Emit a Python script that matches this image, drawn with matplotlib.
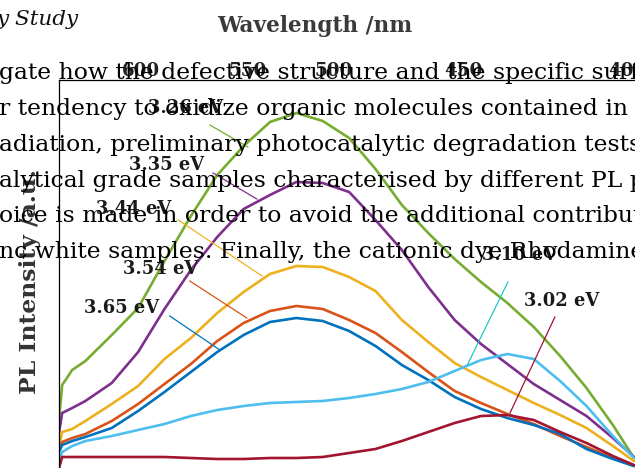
import matplotlib
matplotlib.use("Agg")
import matplotlib.pyplot as plt
from matplotlib.ticker import MultipleLocator

# energia de emissao (eV), grade comum para todas as curvas
energy_ev = [1.900, 1.906, 1.925, 1.95, 2.00, 2.05, 2.10, 2.15, 2.20, 2.25, 2.30, 2.35,
             2.40, 2.45, 2.50, 2.55, 2.60, 2.65, 2.70, 2.75, 2.80, 2.85, 2.90, 2.95, 2.99]

# intensidade PL (u.a.) para cada energia de excitacao
pl_326 = [15.0, 23.75, 27.5, 29.75, 36.25, 43.0, 54.75, 66.0, 76.25, 83.5, 89.5, 91.75,
          89.75, 85.5, 77.75, 68.75, 61.75, 55.25, 49.5, 44.25, 38.25, 31.0, 23.0, 13.75, 5.5]
pl_335 = [11.75, 16.75, 18.0, 19.75, 24.25, 32.0, 42.75, 52.5, 60.75, 67.75, 71.25, 74.5,
          74.25, 72.0, 65.0, 57.5, 48.25, 40.0, 34.0, 29.0, 24.0, 20.0, 16.0, 10.5, 5.75]
pl_344 = [8.25, 12.0, 12.75, 14.75, 19.0, 23.5, 30.25, 35.5, 41.75, 47.0, 51.5, 53.5,
          53.25, 50.75, 47.25, 40.0, 34.5, 29.25, 25.75, 22.5, 19.25, 16.25, 13.0, 8.5, 4.75]
pl_354 = [7.5, 9.5, 10.5, 11.5, 14.75, 19.0, 24.0, 29.0, 34.75, 39.25, 42.25, 43.5,
          42.75, 40.0, 36.75, 32.0, 27.0, 22.25, 19.25, 16.5, 14.0, 11.0, 8.25, 5.5, 3.5]
pl_365 = [7.0, 8.75, 9.75, 10.75, 13.0, 17.25, 22.0, 27.0, 32.0, 36.25, 39.5, 40.5,
          39.75, 37.25, 33.5, 28.75, 25.0, 20.75, 17.75, 15.5, 13.75, 11.5, 7.75, 5.25, 3.5]
pl_310 = [4.5, 7.0, 8.5, 9.75, 11.0, 12.5, 14.0, 16.0, 17.5, 18.5, 19.25, 19.5,
          19.75, 20.5, 21.5, 22.75, 24.5, 27.25, 30.0, 31.5, 30.25, 24.75, 18.5, 11.0, 5.5]
pl_302 = [3.0, 5.75, 5.75, 5.75, 5.75, 5.75, 5.75, 5.5, 5.25, 5.25, 5.5, 5.5,
          5.75, 6.75, 7.75, 9.75, 12.0, 14.25, 16.0, 16.25, 15.0, 12.0, 9.25, 6.0, 3.75]

exc_labels = ["3.26 eV", "3.35 eV", "3.44 eV", "3.54 eV", "3.65 eV", "3.10 eV", "3.02 eV"]
curves = [pl_326, pl_335, pl_344, pl_354, pl_365, pl_310, pl_302]
cores = ["#77AC30", "#7E2F8E", "#EDB120", "#D95319", "#0072BD", "#4DBEEE", "#A2142F"]
cores_seta = ["#77AC30", "#7E2F8E", "#EDB120", "#D95319", "#0072BD", "#1FC8C8", "#A2142F"]

# onde cada rotulo aparece e onde termina a linha guia (eV, u.a.)
rot_x = [2.139, 2.103, 2.042, 2.093, 2.018, 2.774, 2.852]
rot_y = [93.0, 78.75, 67.75, 52.75, 43.0, 56.25, 44.75]
guia_x = [(2.186, 2.258), (2.192, 2.275), (2.126, 2.285), (2.148, 2.256),
          (2.110, 2.205), (2.751, 2.674), (2.840, 2.755)]
guia_y = [(88.75, 83.25), (76.75, 70.25), (65.0, 51.0), (49.75, 40.5),
          (41.0, 32.5), (49.5, 28.75), (40.75, 16.75)]

# rotulos de comprimento de onda no eixo de cima (posicao em eV como no original)
wl_labels = ["600", "550", "500", "450", "400"]
wl_pos = [2.0555, 2.2583, 2.4213, 2.6659, 2.9768]

# texto do corpo da pagina que cobre a figura
linhas = ["gate how the defective structure and the specific surface",
          "r tendency to oxidize organic molecules contained in the",
          "adiation, preliminary photocatalytic degradation tests were",
          "alytical grade samples characterised by different PL properties",
          "oice is made in order to avoid the additional contribution",
          "nc white samples. Finally, the cationic dye Rhodamine B"]
linhas_base = [79, 115, 151, 187, 222, 258]

W, H = 635, 468
serif = ["DejaVu Serif"]

fig = plt.figure(figsize=(W / 100, H / 100), dpi=100)
rend = fig.canvas.get_renderer()


def tamanho(txt, alvo_px, **kw):
    # acha o tamanho de fonte que da a largura alvo (em pixels)
    t = fig.text(0, 0, txt, fontsize=10, family=serif, **kw)
    w = t.get_window_extent(rend).width
    t.remove()
    return 10 * alvo_px / w


fs_corpo = tamanho("r tendency to oxidize organic molecules contained in", 632)
fs_titulo = tamanho("Wavelength /nm", 196, fontweight="bold")
fs_ylab = tamanho("PL Intensity /a.u.", 226, fontweight="bold")
fs_wl = tamanho("600", 38, fontweight="bold")
fs_ev = tamanho("3.35 eV", 75, fontweight="bold")
fs_cab = tamanho("Study", 63, style="italic")

ax = fig.add_axes([59 / W, 1 - 480 / H, 580.25 / W, 400 / H])

for vals, cor in zip(curves, cores):
    ax.plot(energy_ev, vals, color=cor, lw=1.9, solid_capstyle="round")

for i in range(len(exc_labels)):
    ax.plot(guia_x[i], guia_y[i], color=cores_seta[i], lw=0.9)
    ax.text(rot_x[i], rot_y[i], exc_labels[i], ha="center", va="center",
            fontsize=fs_ev, fontweight="bold", family=serif, color="#1a1a1a")

ax.set_xlim(1.9, 3.0)
ax.set_ylim(0, 100)
ax.set_yticks([])
ax.xaxis.set_major_locator(MultipleLocator(0.2))
ax.xaxis.set_minor_locator(MultipleLocator(0.05))
ax.tick_params(axis="x", which="both", direction="in", top=True, bottom=False,
               labeltop=False, labelbottom=False, width=0.8)
ax.tick_params(axis="x", which="major", length=5.5)
ax.tick_params(axis="x", which="minor", length=3.5)
for lado in ["left", "top"]:
    ax.spines[lado].set_linewidth(0.9)
ax.spines["right"].set_visible(False)
ax.spines["bottom"].set_visible(False)

tw = ax.twiny()
tw.set_xlim(ax.get_xlim())
tw.set_xticks(wl_pos)
tw.set_xticklabels(wl_labels, fontsize=fs_wl, fontweight="bold", family=serif, color="#222222")
tw.tick_params(axis="x", length=0, pad=0)
for s in tw.spines.values():
    s.set_visible(False)

fig.text(315 / W, 1 - 32 / H, "Wavelength /nm", ha="center", va="baseline",
         fontsize=fs_titulo, fontweight="bold", family=serif, color="#3a3a3a")
fig.text(30 / W, 1 - 282 / H, "PL Intensity /a.u.", rotation=90, ha="center", va="center",
         fontsize=fs_ylab, fontweight="bold", family=serif, color="#333333")
fig.text(-3 / W, 1 - 25 / H, "y Study", ha="left", va="baseline",
         fontsize=fs_cab, style="italic", family=serif, color="#111111")

for txt, yb in zip(linhas, linhas_base):
    fig.text(-1 / W, 1 - yb / H, txt, ha="left", va="baseline",
             fontsize=fs_corpo, family=serif, color="black", zorder=10)

fig.savefig("out.png", dpi=100)
